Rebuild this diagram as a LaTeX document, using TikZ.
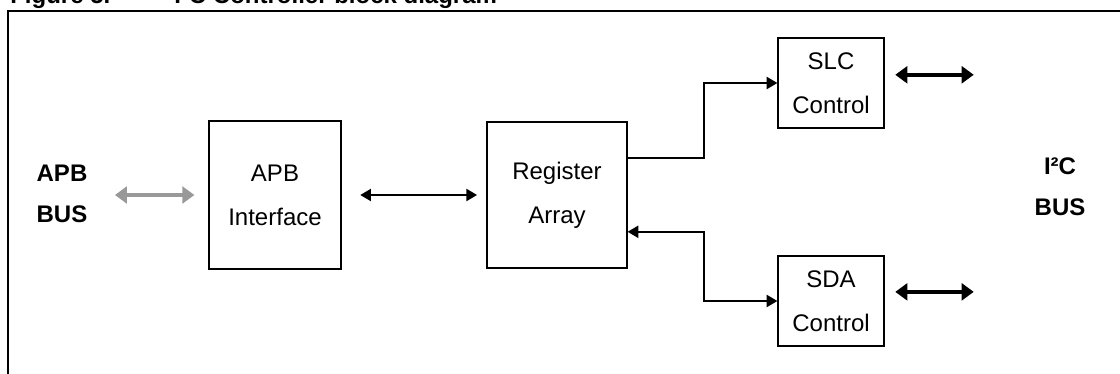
\documentclass[tikz,border=0pt]{standalone}
\usepackage{fontspec}
\setmainfont{Liberation Sans}
\usetikzlibrary{arrows.meta,calc,positioning}

\begin{document}
\begin{tikzpicture}[x=0.75pt,y=-0.75pt]
       \tikzstyle{block}=[draw,line width=0.9pt,align=center,inner sep=0pt,
                          font=\fontsize{18}{33}\selectfont]
       \tikzstyle{bus}=[align=center,inner sep=0pt,font=\bfseries\fontsize{18}{31}\selectfont]
       \tikzstyle{link}=[line width=1.5pt,arrows={Triangle[length=8pt,width=9pt]-Triangle[length=8pt,width=9pt]}]
       \tikzstyle{wide}=[line width=3pt,arrows={Triangle[length=9pt,width=12.5pt]-Triangle[length=9pt,width=12.5pt]}]

       \useasboundingbox (0,0) rectangle (1120,374);

       % caption, cut by the page edge
       \node[anchor=base west,inner sep=0pt,font=\bfseries\fontsize{18}{20}\selectfont]
            (caption) at (10,4) {Figure 5.\hspace{48pt}I²C Controller block diagram};

       % frame
       \draw[line width=1.5pt] (8,390) |- (1130,11);

       \node[bus] (apbbus) at (62,194) {APB\\BUS};
       \node[block, minimum width=99pt, minimum height=111pt] (apbif) at (275,195) {APB\\Interface};
       \node[block, minimum width=105pt, minimum height=109.5pt] (reg) at (557,195) {Register\\Array};
       \node[block, minimum width=79.5pt, minimum height=67.5pt] (slc) at (831,83) {SLC\\Control};
       \node[block, minimum width=79.5pt, minimum height=67.5pt] (sda) at (831,301) {SDA\\Control};
       \node[bus] (i2cbus) at (1060,187) {I²C\\BUS};

       \coordinate (regout) at ($(reg.north east)!0.25!(reg.south east)$);
       \coordinate (regin) at ($(reg.north east)!0.75!(reg.south east)$);
       \coordinate (slcport) at ($(slc.north east)!0.41!(slc.south east)$);
       \coordinate (sdaport) at ($(sda.north east)!0.4!(sda.south east)$);

       \draw[wide, draw=black!40, fill=black!40, shorten <=20.5pt, shorten >=10.5pt] (apbbus.east |- apbif) -- (apbif);
       \draw[link, shorten <=14pt, shorten >=7pt] (apbif) -- (reg);
       \draw[link, arrows={-Triangle[length=8pt,width=9pt]}] (regout) -- ++(76,0) |- (slc.west);
       \draw[link] (regin) -- ++(76,0) |- (sda.west);
       \draw[wide, shorten <=8pt, shorten >=45.5pt] (slcport) -- (slcport -| i2cbus.west);
       \draw[wide, shorten <=8pt, shorten >=45.5pt] (sdaport) -- (sdaport -| i2cbus.west);
     \end{tikzpicture}
\end{document}
